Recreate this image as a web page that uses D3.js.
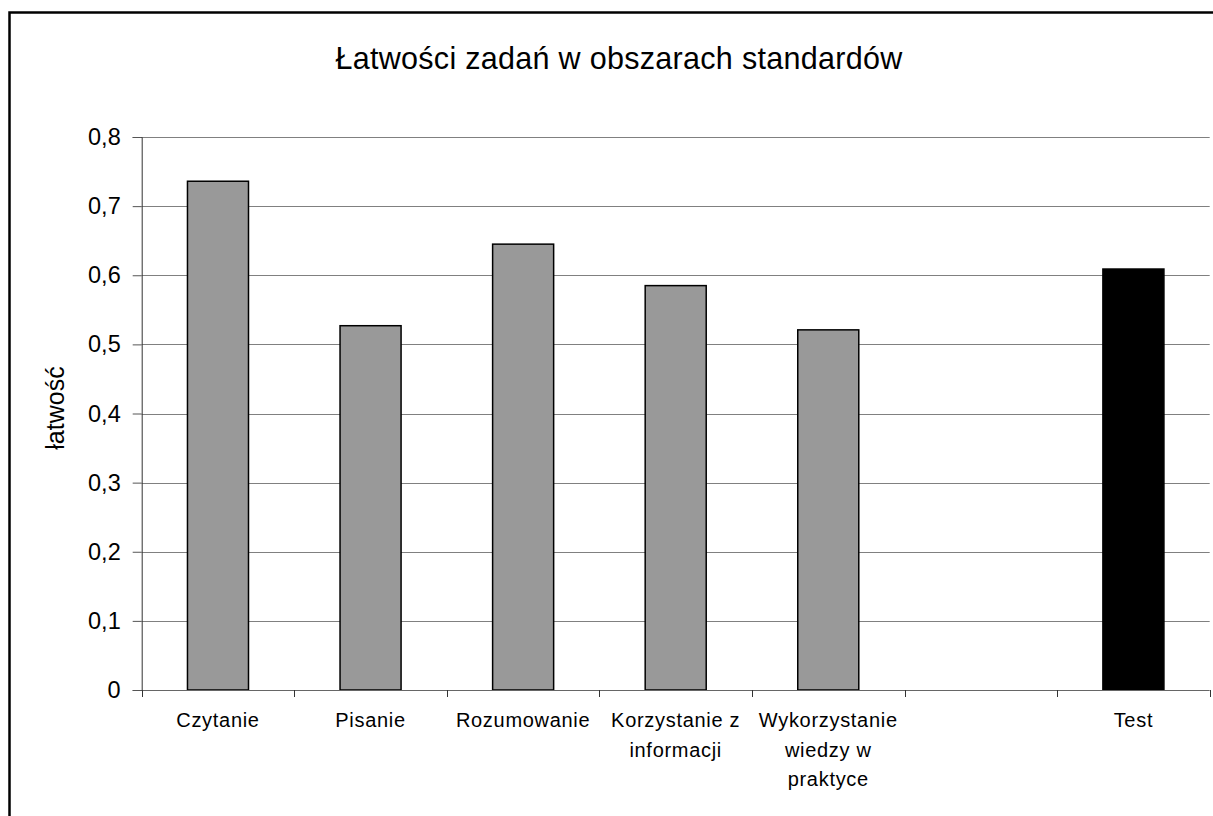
<!DOCTYPE html>
<html>
<head>
<meta charset="utf-8">
<script src="https://cdn.jsdelivr.net/npm/d3@7"></script>
<style>
  html, body { margin: 0; padding: 0; background: #fff; }
  svg { display: block; font-family: "Liberation Sans", Arial, sans-serif; }
</style>
</head>
<body>
<svg id="chart" width="1213" height="816"></svg>
<script>
const categories = ["Czytanie", "Pisanie", "Rozumowanie", "Korzystanie z\ninformacji", "Wykorzystanie\nwiedzy w\npraktyce", " ", "Test"];
const values = [0.736, 0.527, 0.645, 0.585, 0.521, null, 0.609];
const barColors = ["#999999", "#999999", "#999999", "#999999", "#999999", "#999999", "#000000"];
const yTicks = [0, 0.1, 0.2, 0.3, 0.4, 0.5, 0.6, 0.7, 0.8];
const yTickLabels = ["0", "0,1", "0,2", "0,3", "0,4", "0,5", "0,6", "0,7", "0,8"];
const title = "Łatwości zadań w obszarach standardów";
const yTitle = "łatwość";

const svg = d3.select("#chart");
const plot = { left: 141.7, right: 1209.7, top: 137, bottom: 690 };

// outer frame
svg.append("rect")
  .attr("x", 9.5).attr("y", 12.5)
  .attr("width", 1240).attr("height", 840)
  .attr("fill", "none").attr("stroke", "#000").attr("stroke-width", 2.5);

const x = d3.scaleBand().domain(categories).range([plot.left, plot.right]).padding(0);
const y = d3.scaleLinear().domain([0, 0.8]).range([plot.bottom, plot.top]);

// gridlines
svg.append("g").selectAll("line")
  .data(yTicks.filter(d => d > 0))
  .join("line")
  .attr("x1", plot.left).attr("x2", plot.right)
  .attr("y1", d => Math.round(y(d)) + 0.5).attr("y2", d => Math.round(y(d)) + 0.5)
  .attr("stroke", "#808080").attr("stroke-width", 1);

// y axis
const yAxis = d3.axisLeft(y)
  .tickValues(yTicks)
  .tickFormat((d, i) => yTickLabels[i])
  .tickSize(9)
  .tickPadding(12);
const gy = svg.append("g").attr("transform", `translate(${plot.left},0)`).call(yAxis);
gy.select(".domain").attr("stroke", "#333");
gy.selectAll(".tick line").attr("stroke", "#555");
gy.selectAll(".tick text")
  .attr("font-size", 23.5).attr("fill", "#000")
  .attr("font-family", "Liberation Sans, Arial, sans-serif");

// bars
const bw = x.bandwidth() * 0.4;
svg.append("g").selectAll("rect")
  .data(categories.map((c, i) => ({ c, v: values[i], col: barColors[i] })).filter(d => d.v != null))
  .join("rect")
  .attr("x", d => x(d.c) + (x.bandwidth() - bw) / 2)
  .attr("y", d => y(d.v))
  .attr("width", bw)
  .attr("height", d => y(0) - y(d.v))
  .attr("fill", d => d.col)
  .attr("stroke", "#000")
  .attr("stroke-width", 1.5);

// x axis line and ticks
svg.append("line")
  .attr("x1", plot.left).attr("x2", plot.right)
  .attr("y1", plot.bottom + 0.5).attr("y2", plot.bottom + 0.5)
  .attr("stroke", "#666").attr("stroke-width", 1);
const boundaries = categories.map(c => x(c)).concat([x(categories[categories.length - 1]) + x.bandwidth()]);
svg.append("g").selectAll("line")
  .data(boundaries)
  .join("line")
  .attr("x1", d => Math.round(d) + 0.5).attr("x2", d => Math.round(d) + 0.5)
  .attr("y1", plot.bottom).attr("y2", plot.bottom + 7)
  .attr("stroke", "#333").attr("stroke-width", 1);

// x labels
const xl = svg.append("g").selectAll("text")
  .data(categories)
  .join("text")
  .attr("x", d => x(d) + x.bandwidth() / 2)
  .attr("y", 727)
  .attr("text-anchor", "middle")
  .attr("font-size", 20)
  .attr("letter-spacing", 0.7)
  .attr("fill", "#000");
xl.each(function(d) {
  const lines = d.split("\n");
  d3.select(this).selectAll("tspan")
    .data(lines)
    .join("tspan")
    .attr("x", x(d) + x.bandwidth() / 2)
    .attr("dy", (l, i) => i === 0 ? 0 : 29.5)
    .text(l => l);
});

// title
svg.append("text")
  .attr("x", 619).attr("y", 69)
  .attr("text-anchor", "middle")
  .attr("font-size", 30.5)
  .attr("letter-spacing", 0.3)
  .attr("fill", "#000")
  .text(title);

// y title
svg.append("text")
  .attr("transform", `translate(64,408) rotate(-90)`)
  .attr("text-anchor", "middle")
  .attr("font-size", 25)
  .attr("fill", "#000")
  .text(yTitle);
</script>
</body>
</html>
